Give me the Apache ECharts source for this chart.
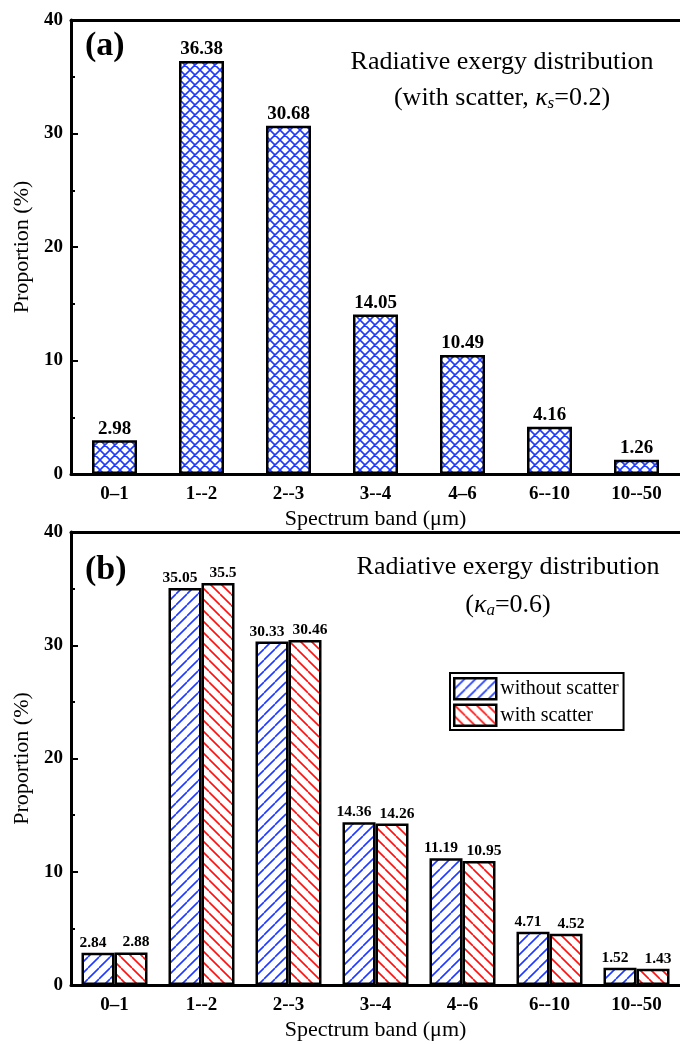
<!DOCTYPE html>
<html>
<head>
<meta charset="utf-8">
<script src="https://cdn.jsdelivr.net/npm/echarts@6/dist/echarts.min.js"></script>
<style>
    html, body { margin: 0; padding: 0; background: #fff; }
    #chart { width: 680px; height: 1044px; }
</style>
</head>
<body>
<div id="chart"></div>
<script>
// data
const bandsA = ['0\u20131', '1--2', '2--3', '3--4', '4\u20136', '6--10', '10--50'];
const bandsB = ['0\u20131', '1--2', '2--3', '3--4', '4--6', '6--10', '10--50'];
const scatterA = [2.98, 36.38, 30.68, 14.05, 10.49, 4.16, 1.26];
const withoutScatter = [2.84, 35.05, 30.33, 14.36, 11.19, 4.71, 1.52];
const withScatter = [2.88, 35.5, 30.46, 14.26, 10.95, 4.52, 1.43];

const FONT = '"Liberation Serif", "DejaVu Serif", serif';

// hatch patterns
function makePattern(color, kind, s) {
    const c = document.createElement('canvas');
    c.width = s; c.height = s;
    const ctx = c.getContext('2d');
    ctx.fillStyle = '#fff';
    ctx.fillRect(0, 0, s, s);
    ctx.strokeStyle = color;
    ctx.lineWidth = 1.6;
    ctx.beginPath();
    for (let x0 = -s; x0 <= s; x0 += s) {
        if (kind === 'slash' || kind === 'cross') {
            ctx.moveTo(x0, s); ctx.lineTo(x0 + s, 0);
        }
        if (kind === 'back' || kind === 'cross') {
            ctx.moveTo(x0, 0); ctx.lineTo(x0 + s, s);
        }
    }
    ctx.stroke();
    return { image: c, repeat: 'repeat' };
}

const crossBlue = makePattern('#1f3bff', 'cross', 10);
const slashBlue = makePattern('#1f3bff', 'slash', 11);
const backRed = makePattern('#ff1010', 'back', 11);

const chart = echarts.init(document.getElementById('chart'));

function yAxisCfg(gridIndex) {
    return {
        gridIndex: gridIndex,
        type: 'value',
        min: 0, max: 40, interval: 10,
        name: 'Proportion (%)',
        nameLocation: 'middle',
        nameGap: 29,
        nameTextStyle: { fontFamily: FONT, fontSize: 22, color: '#000' },
        axisLine: { show: true, lineStyle: { color: '#000', width: 3 } },
        axisTick: { show: true, inside: true, length: 7, lineStyle: { color: '#000', width: 2 } },
        minorTick: { show: true, splitNumber: 2, length: 4, lineStyle: { color: '#000', width: 2 } },
        axisLabel: { fontFamily: FONT, fontSize: 19, fontWeight: 'bold', color: '#000', margin: 8 },
        splitLine: { show: false }
    };
}

function xAxisCfg(gridIndex, cats) {
    return {
        gridIndex: gridIndex,
        type: 'category',
        data: cats,
        name: 'Spectrum band (\u03bcm)',
        nameLocation: 'middle',
        nameGap: 34,
        nameTextStyle: { fontFamily: FONT, fontSize: 22, color: '#000' },
        axisLine: { lineStyle: { color: '#000', width: 3 } },
        axisTick: { show: false },
        axisLabel: { fontFamily: FONT, fontSize: 19, fontWeight: 'bold', color: '#000', margin: 11 }
    };
}

function topLine(gridIndex) {
    return {
        gridIndex: gridIndex,
        type: 'category',
        position: 'top',
        data: [],
        axisLine: { show: true, lineStyle: { color: '#000', width: 3 } },
        axisTick: { show: false },
        axisLabel: { show: false }
    };
}

const barBorder = { borderColor: '#000', borderWidth: 2.5 };

const subRich = {
    i: { fontFamily: FONT, fontSize: 26, fontStyle: 'italic', color: '#000' },
    sub: { fontFamily: FONT, fontSize: 17, fontStyle: 'italic', color: '#000', verticalAlign: 'bottom', padding: [10, 0, 0, 0] }
};

chart.setOption({
    animation: false,
    backgroundColor: '#fff',
    title: [
        {
            text: '(a)', left: 80, top: 24,
            textStyle: { fontFamily: FONT, fontSize: 34, fontWeight: 'bold', color: '#000' }
        },
        {
            text: 'Radiative exergy distribution', left: 497, top: 44, textAlign: 'center',
            textStyle: { fontFamily: FONT, fontSize: 26, fontWeight: 'normal', color: '#000' }
        },
        {
            text: '(with scatter, {i|\u03ba}{sub|s}=0.2)', left: 497, top: 80, textAlign: 'center',
            textStyle: { fontFamily: FONT, fontSize: 26, fontWeight: 'normal', color: '#000', rich: subRich }
        },
        {
            text: '(b)', left: 80, top: 548,
            textStyle: { fontFamily: FONT, fontSize: 34, fontWeight: 'bold', color: '#000' }
        },
        {
            text: 'Radiative exergy distribution', left: 503, top: 549, textAlign: 'center',
            textStyle: { fontFamily: FONT, fontSize: 26, fontWeight: 'normal', color: '#000' }
        },
        {
            text: '({i|\u03ba}{sub|a}=0.6)', left: 503, top: 587, textAlign: 'center',
            textStyle: { fontFamily: FONT, fontSize: 26, fontWeight: 'normal', color: '#000', rich: subRich }
        }
    ],
    legend: {
        data: ['without scatter', 'with scatter'],
        orient: 'vertical',
        left: 450, top: 673,
        icon: 'rect',
        itemWidth: 42, itemHeight: 21, itemGap: 3,
        padding: [4, 5, 3, 3],
        borderColor: '#000', borderWidth: 2,
        backgroundColor: '#fff',
        textStyle: { fontFamily: FONT, fontSize: 20, color: '#000', padding: [0, 0, 0, -1] },
        itemStyle: { borderColor: '#000', borderWidth: 2.5 }
    },
    grid: [
        { left: 71, top: 20, width: 616, height: 454 },
        { left: 71, top: 532, width: 616, height: 453 }
    ],
    xAxis: [xAxisCfg(0, bandsA), xAxisCfg(1, bandsB), topLine(0), topLine(1)],
    yAxis: [yAxisCfg(0), yAxisCfg(1)],
    series: [
        {
            name: 'with scatter a',
            type: 'bar',
            xAxisIndex: 0, yAxisIndex: 0,
            data: scatterA,
            barWidth: 45,
            itemStyle: Object.assign({ color: crossBlue }, barBorder),
            label: {
                show: true, position: 'top', distance: 2,
                fontFamily: FONT, fontSize: 19, fontWeight: 'bold', color: '#000',
                formatter: p => p.value.toFixed(2)
            }
        },
        {
            name: 'without scatter',
            type: 'bar',
            xAxisIndex: 1, yAxisIndex: 1,
            data: withoutScatter,
            barGap: '0%',
            barWidth: 33,
            itemStyle: Object.assign({ color: slashBlue }, barBorder),
            label: {
                show: true, position: 'top', distance: 2, offset: [-5, 0],
                fontFamily: FONT, fontSize: 15.5, fontWeight: 'bold', color: '#000'
            }
        },
        {
            name: 'with scatter',
            type: 'bar',
            xAxisIndex: 1, yAxisIndex: 1,
            data: withScatter,
            barGap: '0%',
            barWidth: 33,
            itemStyle: Object.assign({ color: backRed }, barBorder),
            label: {
                show: true, position: 'top', distance: 2, offset: [5, 0],
                fontFamily: FONT, fontSize: 15.5, fontWeight: 'bold', color: '#000'
            }
        }
    ]
});
</script>
</body>
</html>
